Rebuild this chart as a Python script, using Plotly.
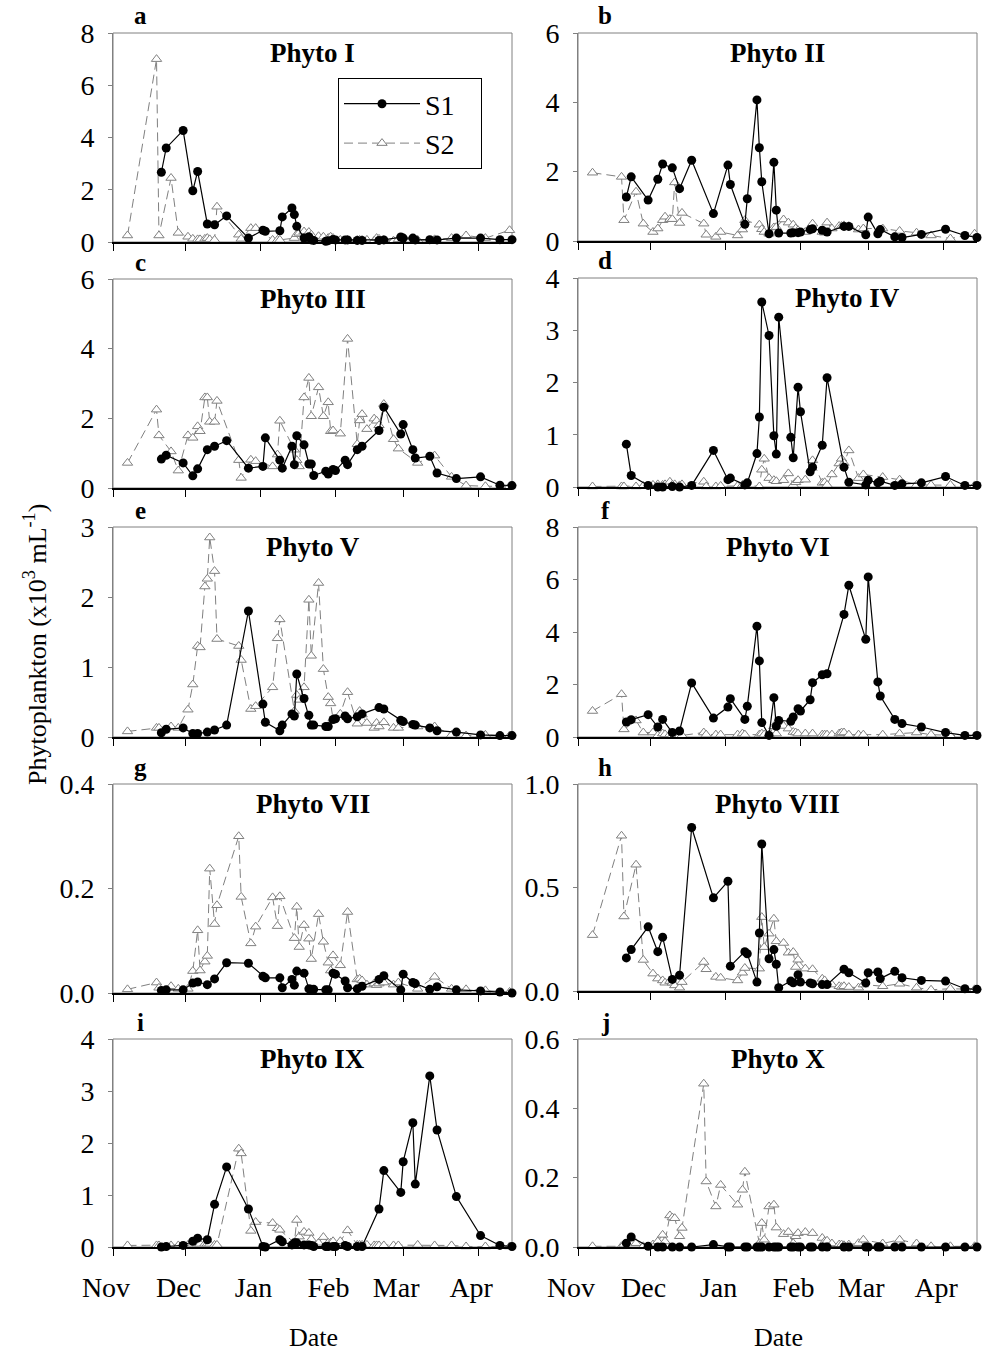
import plotly.graph_objects as go

# ---------------- data ----------------
s1_dates = ["2012-11-21","2012-11-23","2012-11-30","2012-12-04","2012-12-06","2012-12-10","2012-12-13",
            "2012-12-18","2012-12-27","2013-01-02","2013-01-03","2013-01-09","2013-01-10","2013-01-14",
            "2013-01-15","2013-01-16","2013-01-19","2013-01-21","2013-01-22","2013-01-23","2013-01-28",
            "2013-01-29","2013-01-31","2013-02-01","2013-02-05","2013-02-06","2013-02-10","2013-02-12",
            "2013-02-19","2013-02-21","2013-02-28","2013-03-01","2013-03-05","2013-03-06","2013-03-12",
            "2013-03-15","2013-03-23","2013-04-02","2013-04-10","2013-04-15"]

s2_dates = ["2012-11-07","2012-11-19","2012-11-20","2012-11-25","2012-11-28",
            "2012-12-02","2012-12-04","2012-12-06","2012-12-07","2012-12-09","2012-12-10","2012-12-11",
            "2012-12-13","2012-12-14","2012-12-23","2012-12-24","2012-12-28","2012-12-30",
            "2013-01-06","2013-01-08","2013-01-09","2013-01-15","2013-01-16","2013-01-17","2013-01-19",
            "2013-01-21","2013-01-22","2013-01-25","2013-01-27","2013-01-29","2013-01-30","2013-01-31",
            "2013-02-03","2013-02-06","2013-02-10","2013-02-11","2013-02-12","2013-02-14","2013-02-17",
            "2013-02-18","2013-02-19","2013-02-21","2013-02-25","2013-02-27",
            "2013-03-07","2013-03-14","2013-03-21","2013-03-27","2013-04-04","2013-04-14"]

panel_titles = ["Phyto I", "Phyto II", "Phyto III", "Phyto IV", "Phyto V",
                "Phyto VI", "Phyto VII", "Phyto VIII", "Phyto IX", "Phyto X"]
panel_letters = ["a", "b", "c", "d", "e", "f", "g", "h", "i", "j"]
y_max = [8, 6, 6, 4, 3, 8, 0.4, 1.0, 4, 0.6]
y_step = [2, 2, 2, 1, 1, 2, 0.2, 0.5, 1, 0.2]

month_ticks = ["2012-11-01", "2012-12-01", "2013-01-01", "2013-02-01", "2013-03-01", "2013-04-01"]
month_labels = ["Nov", "Dec", "Jan", "Feb", "Mar", "Apr"]

s1_phyto1 = [2.67,3.6,4.27,1.96,2.7,0.69,0.66,1.0,0.15,0.45,0.41,0.43,0.96,1.3,1.05,0.6,0.15,0.2,0.08,0.06,
             0.03,0.05,0.1,0.08,0.08,0.08,0.06,0.06,0.06,0.08,0.19,0.15,0.15,0.08,0.09,0.08,0.15,0.15,0.09,0.09]
s2_phyto1 = [0.25,7.0,0.25,2.45,0.35,0.2,0.12,0.1,0.1,0.12,0.15,0.1,0.08,1.35,0.28,0.12,0.53,0.53,
             0.08,0.08,0.08,0.15,0.3,0.35,0.4,0.38,0.28,0.22,0.2,0.15,0.2,0.15,
             0.08,0.08,0.08,0.08,0.08,0.08,0.05,0.15,0.12,0.08,0.05,0.1,0.08,0.1,0.15,0.25,0.15,0.45]

s1_phyto2 = [1.27,1.85,1.18,1.78,2.22,2.11,1.51,2.33,0.79,2.19,1.63,0.48,1.22,4.07,2.69,1.71,0.21,2.27,0.89,0.23,
             0.23,0.24,0.24,0.26,0.33,0.35,0.31,0.26,0.42,0.42,0.18,0.69,0.21,0.33,0.12,0.1,0.19,0.34,0.16,0.1]
s2_phyto2 = [1.97,1.85,0.6,1.42,0.5,0.26,0.36,0.6,0.7,0.63,0.63,1.69,0.52,0.81,0.5,0.18,0.12,0.26,
             0.16,0.33,0.6,0.47,0.34,0.26,0.21,0.39,0.4,0.62,0.53,0.47,0.36,0.31,
             0.26,0.5,0.26,0.24,0.53,0.36,0.43,0.43,0.45,0.43,0.33,0.36,0.36,0.29,0.24,0.16,0.07,0.21]

s1_phyto3 = [0.83,0.94,0.72,0.35,0.55,1.1,1.2,1.36,0.57,0.62,1.44,0.8,0.57,1.2,0.67,1.5,1.24,0.69,0.69,0.36,
             0.48,0.4,0.53,0.5,0.8,0.67,1.1,1.2,1.65,2.32,1.55,1.82,1.1,0.86,0.91,0.43,0.27,0.32,0.08,0.07]
s2_phyto3 = [0.72,2.25,1.51,1.05,0.5,1.51,1.44,1.77,1.63,2.6,2.6,1.9,1.9,2.5,0.8,0.29,0.81,0.77,
             0.62,0.96,1.93,1.1,0.8,0.62,2.6,3.16,2.06,2.89,2.06,2.46,1.63,1.65,
             1.56,4.28,1.26,1.94,2.12,1.69,1.99,1.93,1.8,2.41,1.4,1.13,0.72,0.93,0.32,0.07,0.05,0.05]

s1_phyto4 = [0.82,0.22,0.03,0.0,0.0,0.01,0.0,0.03,0.7,0.14,0.17,0.04,0.08,0.64,1.34,3.54,2.9,0.98,0.63,3.25,
             0.95,0.56,1.91,1.44,0.29,0.38,0.8,2.09,0.38,0.09,0.04,0.13,0.08,0.11,0.03,0.06,0.08,0.2,0.03,0.03]
s2_phyto4 = [0.01,0.01,0.01,0.01,0.02,0.04,0.05,0.04,0.05,0.1,0.04,0.05,0.03,0.05,0.1,0.01,0.01,0.02,
             0.02,0.04,0.04,0.01,0.33,0.54,0.17,0.13,0.11,0.13,0.26,0.04,0.09,0.13,
             0.14,0.51,0.08,0.09,0.04,0.24,0.45,0.54,0.46,0.7,0.17,0.24,0.19,0.14,0.04,0.04,0.04,0.03]

s1_phyto5 = [0.06,0.11,0.13,0.05,0.05,0.07,0.1,0.17,1.8,0.47,0.21,0.09,0.17,0.33,0.3,0.9,0.55,0.31,0.17,0.17,
             0.15,0.15,0.25,0.26,0.3,0.26,0.29,0.33,0.42,0.4,0.24,0.22,0.18,0.17,0.13,0.09,0.07,0.03,0.02,0.02]
s2_phyto5 = [0.08,0.13,0.13,0.15,0.13,0.39,0.75,1.3,1.28,2.15,2.26,2.85,2.37,1.4,1.3,1.1,0.4,0.44,
             0.71,1.41,1.68,0.37,0.6,0.53,0.71,1.96,1.16,2.2,0.97,0.57,0.48,0.26,
             0.33,0.64,0.19,0.37,0.32,0.2,0.13,0.2,0.15,0.21,0.13,0.13,0.15,0.15,0.03,0.02,0.03,0.02]

s1_phyto6 = [0.57,0.66,0.85,0.38,0.67,0.17,0.23,2.06,0.72,1.14,1.46,0.67,1.17,4.22,2.9,0.55,0.06,1.5,0.41,0.63,
             0.6,0.76,1.08,0.99,1.42,2.07,2.37,2.41,4.67,5.78,3.72,6.1,2.1,1.56,0.67,0.51,0.38,0.17,0.06,0.06]
s2_phyto6 = [0.99,1.63,0.29,0.63,0.17,0.17,0.06,0.13,0.1,0.1,0.06,0.06,0.06,0.06,0.17,0.09,0.09,0.09,
             0.09,0.13,0.09,0.09,0.13,0.09,0.1,0.41,0.13,0.42,0.32,0.19,0.17,0.13,
             0.13,0.13,0.09,0.09,0.09,0.09,0.13,0.17,0.17,0.09,0.09,0.09,0.09,0.13,0.17,0.09,0.06,0.03]

s1_phyto7 = [0.005,0.006,0.006,0.019,0.021,0.016,0.027,0.058,0.057,0.032,0.029,0.029,0.01,0.026,0.015,0.042,
             0.038,0.008,0.007,0.007,0.006,0.006,0.038,0.036,0.023,0.01,0.008,0.013,0.026,0.033,0.006,0.036,
             0.02,0.018,0.007,0.012,0.006,0.004,0.002,0.0]
s2_phyto7 = [0.007,0.02,0.01,0.013,0.008,0.008,0.042,0.12,0.043,0.06,0.071,0.238,0.132,0.168,0.3,0.184,
             0.095,0.127,0.183,0.128,0.185,0.105,0.165,0.088,0.13,0.104,0.065,0.151,0.098,0.058,0.043,0.072,
             0.053,0.155,0.026,0.027,0.024,0.016,0.018,0.015,0.018,0.02,0.016,0.02,0.008,0.031,0.008,0.007,
             0.005,0.002]

s1_phyto8 = [0.16,0.2,0.31,0.19,0.26,0.056,0.076,0.79,0.45,0.53,0.12,0.19,0.18,0.043,0.28,0.71,0.156,0.2,
             0.129,0.016,0.048,0.04,0.079,0.043,0.039,0.035,0.031,0.031,0.105,0.088,0.039,0.088,0.092,0.06,
             0.095,0.064,0.051,0.048,0.011,0.008]
s2_phyto8 = [0.27,0.75,0.36,0.61,0.15,0.084,0.06,0.051,0.04,0.048,0.04,0.027,0.016,0.043,0.14,0.105,0.068,
             0.064,0.051,0.088,0.111,0.108,0.357,0.212,0.277,0.349,0.24,0.232,0.185,0.188,0.116,0.151,
             0.108,0.105,0.059,0.051,0.035,0.031,0.023,0.019,0.023,0.019,0.016,0.031,0.023,0.035,0.016,
             0.006,0.011,0.008]

s1_phyto9 = [0.0,0.01,0.03,0.11,0.17,0.14,0.82,1.54,0.73,0.01,0.0,0.14,0.1,0.04,0.08,0.08,0.04,0.04,0.03,0.01,
             0.01,0.01,0.01,0.01,0.03,0.01,0.01,0.01,0.73,1.47,1.05,1.64,2.39,1.21,3.29,2.25,0.97,0.22,0.03,0.01]
s2_phyto9 = [0.03,0.03,0.03,0.03,0.03,0.04,0.06,0.1,0.06,0.06,0.06,0.06,0.04,0.04,1.89,1.8,0.31,0.48,
             0.46,0.36,0.33,0.08,0.52,0.2,0.29,0.27,0.15,0.08,0.19,0.08,0.08,0.11,
             0.11,0.32,0.04,0.04,0.04,0.04,0.03,0.03,0.03,0.03,0.03,0.03,0.04,0.03,0.03,0.01,0.01,0.01]

s1_phyto10 = [0.011,0.029,0.002,0.0,0.0,0.0,0.0,0.0,0.007,0.0,0.0,0.0,0.0,0.0,0.0,0.0,0.0,0.0,0.0,0.0,
              0.0,0.0,0.0,0.0,0.0,0.0,0.0,0.0,0.0,0.0,0.0,0.0,0.0,0.0,0.0,0.0,0.0,0.0,0.0,0.0]
s2_phyto10 = [0.002,0.002,0.007,0.011,0.002,0.007,0.016,0.035,0.016,0.091,0.085,0.083,0.031,0.055,0.471,
              0.189,0.117,0.179,0.122,0.165,0.217,0.011,0.069,0.021,0.117,0.122,0.056,0.037,0.043,0.011,
              0.031,0.04,0.043,0.04,0.026,0.016,0.018,0.01,0.007,0.007,0.005,0.007,0.011,0.021,0.01,0.021,
              0.01,0.002,0.002,0.002]

s1_all = [s1_phyto1, s1_phyto2, s1_phyto3, s1_phyto4, s1_phyto5,
          s1_phyto6, s1_phyto7, s1_phyto8, s1_phyto9, s1_phyto10]
s2_all = [s2_phyto1, s2_phyto2, s2_phyto3, s2_phyto4, s2_phyto5,
          s2_phyto6, s2_phyto7, s2_phyto8, s2_phyto9, s2_phyto10]

# ---------------- layout geometry (pixels) ----------------
W, H = 983, 1351
def fx(p): return p / W
def fy(p): return 1 - p / H

col_x = [(113, 512), (578, 977)]
row_y = [[(33, 242), (33, 241)], [(279, 488), (278, 487)], [(527, 737), (527, 737)],
         [(784, 993), (784, 991)], [(1039, 1247), (1039, 1247)]]
title_x_off = [0, 0, 0, 70, 0, 0, 0, 0, 0, 0]

SERIF = "Liberation Serif"
GRAY = "#808080"

fig = go.Figure()
layout = dict(width=W, height=H, margin=dict(l=0, r=0, t=0, b=0, autoexpand=False),
              paper_bgcolor="white", plot_bgcolor="white",
              font=dict(family=SERIF, size=28, color="black"))
shapes, annotations = [], []

for k in range(10):
    r, c = k // 2, k % 2
    x0, x1 = col_x[c]
    y0, y1 = row_y[r][c]
    sfx = "" if k == 0 else str(k + 1)
    xa, ya = "x" + sfx, "y" + sfx

    fig.add_trace(go.Scatter(
        x=s2_dates, y=s2_all[k], mode="lines+markers", name="S2\u00a0\u00a0\u00a0",
        line=dict(color=GRAY, width=1, dash="9px,5px"),
        marker=dict(symbol="triangle-up", size=9, color="white", line=dict(color=GRAY, width=1)),
        xaxis=xa, yaxis=ya, cliponaxis=False, showlegend=(k == 0), legendrank=2))
    fig.add_trace(go.Scatter(
        x=s1_dates, y=s1_all[k], mode="lines+markers", name="S1\u00a0\u00a0\u00a0",
        line=dict(color="black", width=1.2),
        marker=dict(symbol="circle", size=9, color="black"),
        xaxis=xa, yaxis=ya, cliponaxis=False, showlegend=(k == 0), legendrank=1))

    nt = int(round(y_max[k] / y_step[k]))
    yvals = [round(i * y_step[k], 3) for i in range(nt + 1)]
    ytext = [("%.1f" % v) if y_max[k] < 1.5 else str(int(v)) for v in yvals]

    layout["xaxis" + sfx] = dict(
        domain=[fx(x0), fx(x1)], anchor=ya, type="date", automargin=False,
        range=["2012-11-01", "2013-04-15"], tickvals=month_ticks, ticktext=month_labels,
        ticks="outside", ticklen=7, tickwidth=1, tickcolor="black",
        showline=True, linecolor="black", linewidth=1.5, showgrid=False, zeroline=False,
        showticklabels=(r == 4), ticklabelshift=-7, ticklabelstandoff=8,
        tickfont=dict(family=SERIF, size=28, color="black"), fixedrange=True)
    layout["yaxis" + sfx] = dict(
        domain=[fy(y1), fy(y0)], anchor=xa, range=[0, y_max[k]], automargin=False,
        tickvals=yvals, ticktext=ytext, ticks="outside", ticklen=4, tickcolor=GRAY,
        showline=True, linecolor=GRAY, linewidth=1, showgrid=False, zeroline=False,
        ticklabelstandoff=8, tickfont=dict(family=SERIF, size=28, color="black"), fixedrange=True)

    shapes.append(dict(type="rect", xref=xa + " domain", yref=ya + " domain",
                       x0=0, x1=1, y0=0, y1=1, line=dict(color=GRAY, width=1), layer="below"))

    annotations.append(dict(text="<b>%s</b>" % panel_titles[k], xref="paper", yref="paper",
                            x=fx((x0 + x1) / 2 + title_x_off[k]), y=fy(y0 + 20),
                            xanchor="center", yanchor="middle", showarrow=False,
                            font=dict(family=SERIF, size=27, color="black")))
    annotations.append(dict(text="<b>%s</b>" % panel_letters[k], xref="paper", yref="paper",
                            x=fx(x0 + 27), y=fy(y0 - 17), xanchor="center", yanchor="middle",
                            showarrow=False, font=dict(family=SERIF, size=25, color="black")))

annotations.append(dict(text="Phytoplankton (x10<sup>3</sup> mL<sup>-1</sup>)", xref="paper", yref="paper",
                        x=fx(35), y=fy(645), textangle=-90, xanchor="center", yanchor="middle",
                        showarrow=False, font=dict(family=SERIF, size=26, color="black")))
for cx in (313, 778):
    annotations.append(dict(text="Date", xref="paper", yref="paper", x=fx(cx), y=fy(1337),
                            xanchor="center", yanchor="middle", showarrow=False,
                            font=dict(family=SERIF, size=26, color="black")))

layout["shapes"] = shapes
layout["annotations"] = annotations
layout["legend"] = dict(x=fx(338), y=fy(78), xanchor="left", yanchor="top",
                        bgcolor="white", bordercolor="black", borderwidth=1,
                        font=dict(family=SERIF, size=28, color="black"),
                        itemwidth=76, tracegroupgap=0)
fig.update_layout(**layout)

fig.write_html("out.html")
